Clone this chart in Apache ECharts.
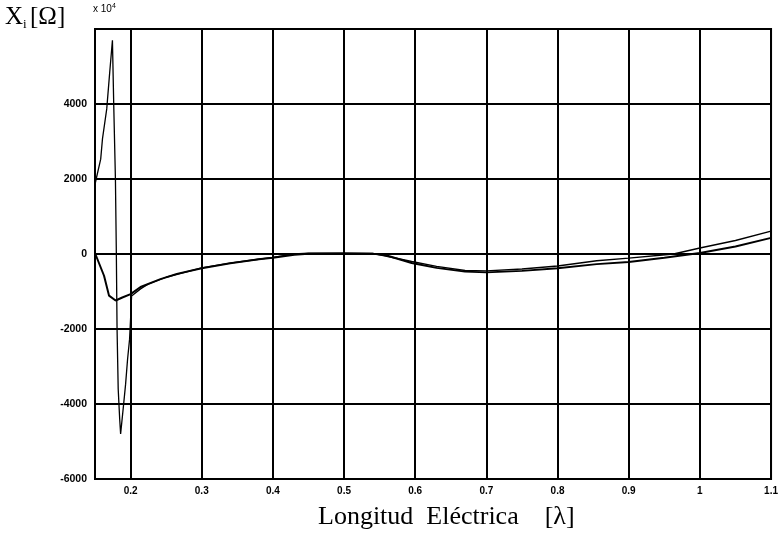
<!DOCTYPE html>
<html>
<head>
<meta charset="utf-8">
<script src="https://cdn.jsdelivr.net/npm/echarts@6/dist/echarts.min.js"></script>
<style>
  html, body { margin: 0; padding: 0; background: #fff; }
  #chart { width: 781px; height: 538px; }
</style>
</head>
<body>
<div id="chart"></div>
<script>
// valores del eje x (longitud eléctrica) y ticks
const xTicks = [0.2, 0.3, 0.4, 0.5, 0.6, 0.7, 0.8, 0.9, 1.0, 1.1]
const yTicks = [-6000, -4000, -2000, 0, 2000, 4000]

// curva con la oscilación grande cerca de 0.18
const curveA = [
  [0.1505, 1900], [0.1526, 2080], [0.158, 2530], [0.1605, 3070], [0.1665, 3870],
  [0.1707, 4850], [0.1745, 5700], [0.1763, 4000], [0.1787, 2000], [0.180, 0],
  [0.181, -2000], [0.1826, -3600], [0.1847, -4400], [0.186, -4800], [0.1874, -4750],
  [0.190, -4050], [0.193, -3470], [0.1958, -2800], [0.1986, -2270], [0.200, -1730],
  [0.2014, -1120], [0.214, -930], [0.225, -800], [0.25, -620], [0.30, -370],
  [0.34, -240], [0.38, -140], [0.40, -90], [0.43, 0], [0.45, 20], [0.50, 20],
  [0.54, 15], [0.56, -60], [0.595, -200], [0.63, -330], [0.67, -440], [0.70, -450],
  [0.75, -400], [0.80, -320], [0.855, -180], [0.90, -110], [0.963, 0], [1.0, 160],
  [1.05, 360], [1.1, 610]
]

// curva suave
const curveB = [
  [0.1505, 0], [0.1526, -20], [0.1627, -580], [0.1697, -1110], [0.179, -1240],
  [0.1884, -1160], [0.200, -1070], [0.214, -880], [0.242, -670], [0.265, -530],
  [0.30, -380], [0.34, -250], [0.38, -140], [0.40, -100], [0.43, -20], [0.45, 5],
  [0.50, 15], [0.54, 10], [0.56, -40], [0.595, -240], [0.63, -370], [0.67, -470],
  [0.70, -490], [0.75, -450], [0.80, -380], [0.855, -270], [0.90, -215],
  [0.95, -100], [1.0, 25], [1.05, 200], [1.1, 430]
]

const chart = echarts.init(document.getElementById('chart'))

const tickFont = 'Arial, Liberation Sans, sans-serif'
const serif = 'Liberation Serif, DejaVu Serif, serif'

const option = {
  animation: false,
  backgroundColor: '#fff',
  grid: {
    left: 95,
    right: 6,
    top: 29,
    bottom: 59,
    show: true,
    borderColor: '#000',
    borderWidth: 2
  },
  xAxis: {
    type: 'value',
    min: 0.15,
    max: 1.1,
    axisLine: { show: true, lineStyle: { color: '#000', width: 2 } },
    axisTick: { show: false, customValues: xTicks },
    axisLabel: {
      customValues: xTicks,
      color: '#000',
      fontFamily: tickFont,
      fontWeight: 'bold',
      fontSize: 10,
      margin: 7,
      formatter: (v) => String(Math.round(v * 10) / 10)
    },
    splitLine: { show: true, lineStyle: { color: '#000', width: 2 } }
  },
  yAxis: {
    type: 'value',
    min: -6000,
    max: 6000,
    interval: 2000,
    axisLine: { show: true, lineStyle: { color: '#000', width: 2 } },
    axisTick: { show: false },
    axisLabel: {
      color: '#000',
      fontFamily: tickFont,
      fontWeight: 'bold',
      fontSize: 10.5,
      margin: 8,
      showMaxLabel: false,
      formatter: (v) => (yTicks.indexOf(v) >= 0 ? String(v) : '')
    },
    splitLine: { show: true, lineStyle: { color: '#000', width: 2 } }
  },
  graphic: [
    {
      type: 'text',
      left: 5,
      top: 5,
      style: {
        text: '{x|X}{s|i} {x|[Ω]}',
        rich: {
          x: { fontFamily: serif, fontSize: 25, fill: '#000' },
          s: { fontFamily: serif, fontSize: 13, fill: '#000', verticalAlign: 'bottom', padding: [14, 0, 0, 0] }
        }
      }
    },
    {
      type: 'text',
      left: 93,
      top: 3,
      style: {
        text: 'x 10{e|4}',
        font: '10px Arial, Liberation Sans, sans-serif',
        fill: '#000',
        rich: {
          e: { fontSize: 7, fill: '#000', verticalAlign: 'top', padding: [0, 0, 6, 0] }
        }
      }
    },
    {
      type: 'text',
      left: 318,
      top: 504,
      style: {
        text: 'Longitud  Eléctrica    [λ]',
        font: '26px Liberation Serif, DejaVu Serif, serif',
        fill: '#000'
      }
    }
  ],
  series: [
    {
      type: 'line',
      data: curveA,
      showSymbol: false,
      lineStyle: { color: '#000', width: 1.3 },
      z: 3
    },
    {
      type: 'line',
      data: curveB,
      showSymbol: false,
      lineStyle: { color: '#000', width: 2 },
      z: 4
    }
  ]
}

chart.setOption(option)
</script>
</body>
</html>
